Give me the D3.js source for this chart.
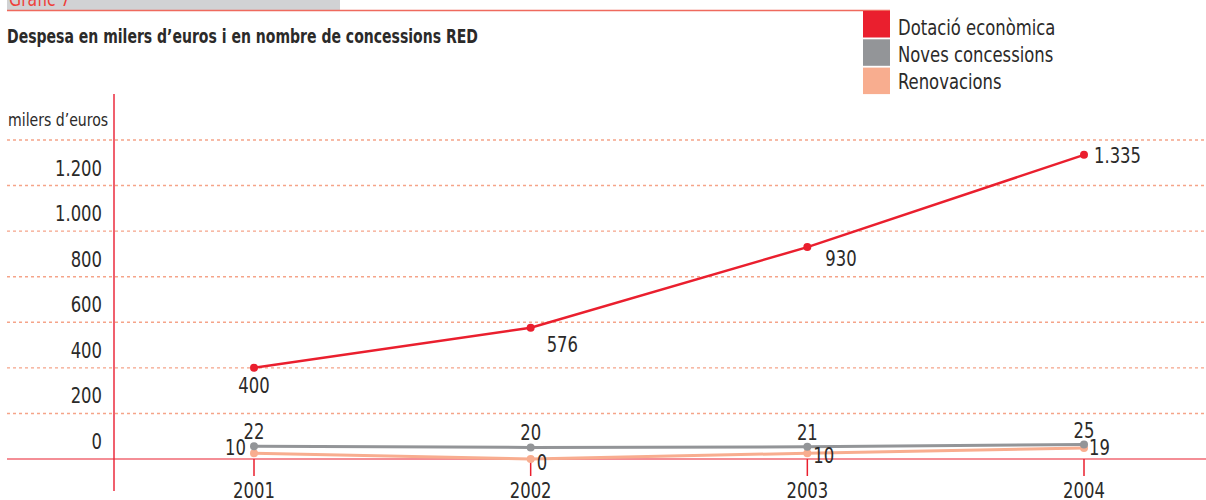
<!DOCTYPE html>
<html>
<head>
<meta charset="utf-8">
<script src="https://cdn.jsdelivr.net/npm/d3@7"></script>
<style>
  html, body { margin: 0; padding: 0; background: #fff; }
  svg { display: block; }
  text { font-family: "DejaVu Sans Condensed", "DejaVu Sans", sans-serif; fill: #2b2a29; }
</style>
</head>
<body>
<div id="vis"></div>
<script>
// data
var years = ["2001", "2002", "2003", "2004"];
var dotacio = [400, 576, 930, 1335];
var noves = [22, 20, 21, 25];
var renovacions = [10, 0, 10, 19];
var yTicks = [0, 200, 400, 600, 800, 1000, 1200];
var gridValues = [200, 400, 600, 800, 1000, 1200, 1400];
var legendLabels = ["Dotació econòmica", "Noves concessions", "Renovacions"];

var red = "#ea1f2e", grey = "#939598", salmon = "#f8ad8f";

var width = 1206, height = 500;

var svg = d3.select("#vis").append("svg")
    .attr("width", width)
    .attr("height", height);

var x = d3.scalePoint().domain(years).range([254, 1084]);
var y = d3.scaleLinear().domain([0, 1400]).range([459, 140]);
// counts sit on their own small scale near the baseline
var yCount = d3.scaleLinear().domain([0, 25]).range([459, 444.5]);

var fmt = function (d) { return d3.format(",")(d).replace(/,/g, "."); };

// the print font is narrow, so squeeze the text a bit
function label(parent, px, py, txt, size, anchor) {
    var g = parent.append("g")
        .attr("transform", "translate(" + px + "," + py + ") scale(0.87,1)");
    return g.append("text")
        .attr("font-size", size)
        .attr("text-anchor", anchor || "start")
        .text(txt);
}

// header strip
svg.append("rect").attr("x", 7).attr("y", 0).attr("width", 333).attr("height", 10).attr("fill", "#d1d2d4");
label(svg, 9, 6, "Gràfic 7", 20).style("fill", "#ee3f3a");
svg.append("line").attr("x1", 7).attr("x2", 890).attr("y1", 10.5).attr("y2", 10.5)
    .attr("stroke", "#ef6a5e").attr("stroke-width", 1.5);

svg.append("text")
    .attr("x", 7).attr("y", 43)
    .attr("font-size", 19).attr("font-weight", "bold")
    .attr("textLength", 471).attr("lengthAdjust", "spacingAndGlyphs")
    .text("Despesa en milers d\u2019euros i en nombre de concessions RED");

// legend
svg.append("g").selectAll("rect").data(legendLabels).enter().append("rect")
    .attr("x", 863).attr("y", function (d, i) { return 11 + i * 28.3; })
    .attr("width", 27).attr("height", 26.5)
    .attr("fill", function (d, i) { return [red, grey, salmon][i]; });
legendLabels.forEach(function (d, i) {
    label(svg, 898, 35 + i * 26.8, d, 21);
});

// grid
svg.append("g").selectAll("line").data(gridValues).enter().append("line")
    .attr("x1", 7).attr("x2", width)
    .attr("y1", function (d) { return y(d); }).attr("y2", function (d) { return y(d); })
    .attr("stroke", "#f5a489").attr("stroke-width", 1.4).attr("stroke-dasharray", "3,3");

// y labels, set half a step under their line
yTicks.forEach(function (d) {
    label(svg, 102, y(d) - 10, fmt(d), 21, "end");
});
label(svg, 8, 126, "milers d\u2019euros", 18);

// axes
svg.append("line").attr("x1", 114).attr("x2", 114).attr("y1", 94).attr("y2", 491)
    .attr("stroke", "#f0606e").attr("stroke-width", 2);
svg.append("line").attr("x1", 7).attr("x2", width).attr("y1", y(0)).attr("y2", y(0))
    .attr("stroke", red).attr("stroke-width", 1.2);

svg.append("g").selectAll("line").data(years).enter().append("line")
    .attr("x1", function (d) { return x(d); }).attr("x2", function (d) { return x(d); })
    .attr("y1", y(0)).attr("y2", 476)
    .attr("stroke", red).attr("stroke-width", 1.5);
years.forEach(function (d) {
    label(svg, x(d), 498, d, 21, "middle");
});

// series
function drawSeries(values, scale, color, w) {
    var line = d3.line()
        .x(function (d, i) { return x(years[i]); })
        .y(function (d) { return scale(d); });
    svg.append("path").datum(values)
        .attr("d", line).attr("fill", "none")
        .attr("stroke", color).attr("stroke-width", w);
    svg.append("g").selectAll("circle").data(values).enter().append("circle")
        .attr("cx", function (d, i) { return x(years[i]); })
        .attr("cy", function (d) { return scale(d); })
        .attr("r", 4).attr("fill", color);
}
drawSeries(renovacions, yCount, salmon, 3);
drawSeries(noves, yCount, grey, 3);
drawSeries(dotacio, y, red, 2.5);

// value labels
var dotOff = [[0, 25, "middle"], [16, 24, "start"], [18, 19, "start"], [10, 8, "start"]];
dotacio.forEach(function (d, i) {
    label(svg, x(years[i]) + dotOff[i][0], y(d) + dotOff[i][1], fmt(d), 21, dotOff[i][2]);
});
noves.forEach(function (d, i) {
    label(svg, x(years[i]), yCount(d) - 7, d, 21, "middle");
});
var renOff = [[-8, 2, "end"], [6, 11, "start"], [6, 10, "start"], [5, 7, "start"]];
renovacions.forEach(function (d, i) {
    label(svg, x(years[i]) + renOff[i][0], yCount(d) + renOff[i][1], d, 21, renOff[i][2]);
});
</script>
</body>
</html>
